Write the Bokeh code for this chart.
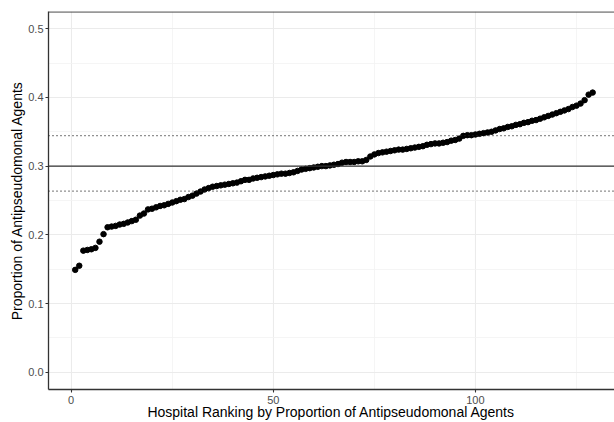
from bokeh.plotting import figure
from bokeh.models import Range1d, FixedTicker, Span, ColumnDataSource
from bokeh.embed import file_html
from bokeh.resources import INLINE

proportion = [
    0.149, 0.155, 0.177, 0.178, 0.179, 0.181, 0.190, 0.201, 0.211, 0.212,
    0.213, 0.215, 0.216, 0.218, 0.220, 0.222, 0.228, 0.231, 0.237, 0.238,
    0.240, 0.242, 0.243, 0.245, 0.247, 0.249, 0.251, 0.252, 0.255, 0.257,
    0.260, 0.263, 0.266, 0.268, 0.270, 0.271, 0.272, 0.273, 0.274, 0.275,
    0.276, 0.278, 0.280, 0.280, 0.282, 0.283, 0.284, 0.285, 0.286, 0.287,
    0.288, 0.289, 0.289, 0.290, 0.291, 0.293, 0.295, 0.296, 0.297, 0.298,
    0.299, 0.300, 0.300, 0.301, 0.302, 0.303, 0.305, 0.306, 0.306, 0.306,
    0.307, 0.307, 0.309, 0.314, 0.317, 0.319, 0.320, 0.321, 0.322, 0.323,
    0.324, 0.324, 0.325, 0.326, 0.327, 0.328, 0.329, 0.331, 0.332, 0.333,
    0.333, 0.334, 0.335, 0.337, 0.338, 0.340, 0.344, 0.345, 0.345, 0.346,
    0.347, 0.348, 0.349, 0.350, 0.352, 0.354, 0.355, 0.357, 0.358, 0.360,
    0.361, 0.363, 0.364, 0.366, 0.367, 0.369, 0.371, 0.373, 0.375, 0.377,
    0.379, 0.381, 0.383, 0.386, 0.388, 0.391, 0.396, 0.404, 0.407,
]
ranking = list(range(1, len(proportion) + 1))

overall_mean = 0.300
upper_limit = 0.3443
lower_limit = 0.2635

x_ticks = [0, 50, 100]
x_minor = [25, 75, 125]
y_ticks = [0.0, 0.1, 0.2, 0.3, 0.4, 0.5]
y_minor = [0.05, 0.15, 0.25, 0.35, 0.45]
y_tick_labels = {0.0: "0.0", 0.1: "0.1", 0.2: "0.2", 0.3: "0.3", 0.4: "0.4", 0.5: "0.5"}

FONT = "Liberation Sans"

p = figure(width=614, height=422, output_backend="svg", toolbar_location=None,
           x_range=Range1d(-5.61, 134.4), y_range=Range1d(-0.0251, 0.525),
           min_border_left=48, min_border_right=0, min_border_top=11, min_border_bottom=32)
p.background_fill_color = "white"
p.border_fill_color = "white"
p.outline_line_color = None

p.xaxis.ticker = FixedTicker(ticks=x_ticks, minor_ticks=x_minor)
p.yaxis.ticker = FixedTicker(ticks=y_ticks, minor_ticks=y_minor)
p.yaxis.major_label_overrides = y_tick_labels

for g in (p.xgrid, p.ygrid):
    g.grid_line_color = "#EBEBEB"
    g.grid_line_width = 1.1
    g.minor_grid_line_color = "#F3F3F3"
    g.minor_grid_line_width = 0.8

for ax in (p.xaxis, p.yaxis):
    ax.axis_line_color = "#333333"
    ax.axis_line_width = 1.3
    ax.major_tick_line_color = "#333333"
    ax.major_tick_line_width = 1.1
    ax.major_tick_out = 3
    ax.major_tick_in = 0
    ax.minor_tick_line_color = None
    ax.major_label_text_font = FONT
    ax.major_label_text_font_size = "11px"
    ax.major_label_text_color = "#4D4D4D"
    ax.axis_label_text_font = FONT
    ax.axis_label_text_font_size = "14px"
    ax.axis_label_text_font_style = "normal"
    ax.axis_label_text_color = "black"

p.xaxis.major_label_standoff = 2
p.xaxis.axis_label_standoff = -3
p.yaxis.major_label_standoff = 1
p.yaxis.axis_label_standoff = 0

p.xaxis.axis_label = "Hospital Ranking by Proportion of Antipseudomonal Agents"
p.yaxis.axis_label = "Proportion of Antipseudomonal Agents"

p.add_layout(Span(location=0.5245, dimension="width", line_color="#333333", line_width=1.3))
p.add_layout(Span(location=overall_mean, dimension="width", line_color="#333333", line_width=1.1))
p.add_layout(Span(location=upper_limit, dimension="width", line_color="#222222",
                  line_width=1.3, line_dash="1 3"))
p.add_layout(Span(location=lower_limit, dimension="width", line_color="#222222",
                  line_width=1.3, line_dash="1 3"))

src = ColumnDataSource(dict(x=ranking, y=proportion))
p.scatter("x", "y", source=src, size=5.5, fill_color="black", line_color="black")

open("out.html", "w").write(file_html(p, INLINE))
